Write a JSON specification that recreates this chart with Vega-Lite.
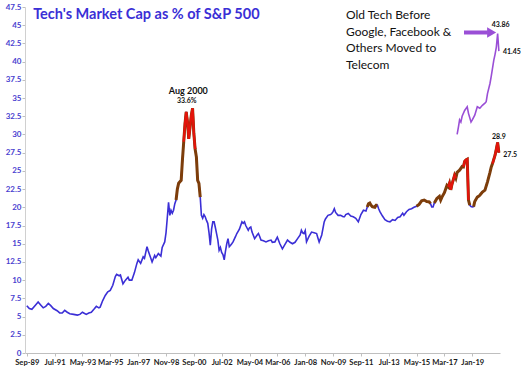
{
  "$schema": "https://vega.github.io/schema/vega-lite/v6.json",
  "width": 475,
  "height": 346,
  "autosize": {"type": "none"},
  "padding": {"left": 25, "top": 7, "right": 28, "bottom": 14},
  "background": "white",
  "config": {"view": {"stroke": null}, "font": "Lato", "axis": {"labelOverlap": false, "grid": false}},
  "datasets": {
    "tech": [
      {"d":"1989-09-01","v":6.5},{"d":"1989-11-01","v":6.1},{"d":"1990-01-01","v":6.0},{"d":"1990-04-01","v":6.6},{"d":"1990-06-01","v":7.0},{"d":"1990-08-01","v":6.6},{"d":"1990-10-01","v":6.2},{"d":"1990-12-01","v":6.4},{"d":"1991-02-01","v":6.8},{"d":"1991-04-01","v":6.5},{"d":"1991-06-01","v":6.1},{"d":"1991-09-01","v":5.8},{"d":"1991-11-01","v":5.5},{"d":"1992-01-01","v":5.5},{"d":"1992-03-01","v":5.85},{"d":"1992-05-01","v":5.6},{"d":"1992-07-01","v":5.4},{"d":"1992-10-01","v":5.3},{"d":"1993-01-01","v":5.2},{"d":"1993-03-01","v":5.3},{"d":"1993-05-01","v":5.6},{"d":"1993-06-01","v":5.5},{"d":"1993-08-01","v":5.3},{"d":"1993-10-01","v":5.5},{"d":"1993-12-01","v":5.6},{"d":"1994-02-01","v":6.0},{"d":"1994-04-01","v":6.4},{"d":"1994-06-01","v":6.2},{"d":"1994-07-01","v":6.3},{"d":"1994-09-01","v":7.2},{"d":"1994-11-01","v":7.9},{"d":"1995-01-01","v":8.4},{"d":"1995-03-01","v":8.6},{"d":"1995-05-01","v":9.3},{"d":"1995-07-01","v":10.5},{"d":"1995-08-01","v":10.8},{"d":"1995-10-01","v":10.6},{"d":"1995-11-01","v":10.7},{"d":"1996-01-01","v":9.5},{"d":"1996-03-01","v":10.0},{"d":"1996-05-01","v":10.4},{"d":"1996-06-01","v":10.0},{"d":"1996-08-01","v":10.0},{"d":"1996-10-01","v":11.0},{"d":"1996-12-01","v":12.3},{"d":"1997-01-01","v":12.8},{"d":"1997-03-01","v":12.3},{"d":"1997-05-01","v":13.2},{"d":"1997-06-01","v":13.0},{"d":"1997-08-01","v":14.6},{"d":"1997-09-01","v":14.0},{"d":"1997-11-01","v":13.0},{"d":"1997-12-01","v":12.5},{"d":"1998-02-01","v":13.4},{"d":"1998-03-01","v":13.1},{"d":"1998-05-01","v":13.65},{"d":"1998-07-01","v":13.3},{"d":"1998-08-01","v":14.5},{"d":"1998-10-01","v":15.25},{"d":"1998-11-01","v":16.5},{"d":"1998-12-01","v":18.5},{"d":"1999-01-01","v":20.7},{"d":"1999-02-01","v":18.9},{"d":"1999-03-01","v":19.6},{"d":"1999-04-01","v":19.2},{"d":"1999-05-01","v":19.6},{"d":"1999-06-01","v":20.5},
      {"d":"1999-07-01","v":21.0,"hl":"A"},{"d":"1999-08-01","v":22.5,"hl":"A"},{"d":"1999-09-01","v":23.3,"hl":"A"},{"d":"1999-10-01","v":23.5,"hl":"A"},{"d":"1999-11-01","v":23.7,"hl":"A"},{"d":"1999-12-01","v":26.5,"hl":"A"},{"d":"2000-01-01","v":29.0,"hl":"A","rd":"R1"},{"d":"2000-02-01","v":31.5,"hl":"A","rd":"R1"},{"d":"2000-03-01","v":33.1,"hl":"A","rd":"R1"},{"d":"2000-04-01","v":31.7,"hl":"A","rd":"R1"},{"d":"2000-05-01","v":29.4,"hl":"A","rd":"R1"},{"d":"2000-06-01","v":31.0,"hl":"A","rd":"R1"},{"d":"2000-07-01","v":32.6,"hl":"A","rd":"R1"},{"d":"2000-08-01","v":33.6,"hl":"A","rd":"R1"},{"d":"2000-09-01","v":30.1,"hl":"A","rd":"R1"},{"d":"2000-10-01","v":28.0,"hl":"A","rd":"R1"},{"d":"2000-11-01","v":26.9,"hl":"A"},{"d":"2000-12-01","v":23.7,"hl":"A"},{"d":"2001-01-01","v":23.3,"hl":"A"},{"d":"2001-02-01","v":21.4,"hl":"A"},
      {"d":"2001-03-01","v":18.9},{"d":"2001-04-01","v":18.5},{"d":"2001-05-01","v":19.0},{"d":"2001-06-01","v":18.7},{"d":"2001-07-01","v":18.2},{"d":"2001-08-01","v":17.8},{"d":"2001-09-01","v":16.5},{"d":"2001-10-01","v":14.8},{"d":"2001-11-01","v":17.0},{"d":"2001-12-01","v":18.0},{"d":"2002-01-01","v":18.0},{"d":"2002-02-01","v":17.2},{"d":"2002-03-01","v":16.4},{"d":"2002-04-01","v":15.5},{"d":"2002-05-01","v":14.1},{"d":"2002-06-01","v":14.5},{"d":"2002-07-01","v":13.8},{"d":"2002-08-01","v":13.5},{"d":"2002-09-01","v":12.8},{"d":"2002-10-01","v":14.0},{"d":"2002-11-01","v":15.0},{"d":"2002-12-01","v":15.7},{"d":"2003-01-01","v":14.6},{"d":"2003-02-01","v":14.8},{"d":"2003-03-01","v":15.0},{"d":"2003-04-01","v":15.25},{"d":"2003-06-01","v":16.0},{"d":"2003-07-01","v":16.4},{"d":"2003-09-01","v":17.0},{"d":"2003-11-01","v":18.0},{"d":"2003-12-01","v":17.8},{"d":"2004-01-01","v":18.0},{"d":"2004-02-01","v":17.5},{"d":"2004-04-01","v":16.85},{"d":"2004-05-01","v":17.2},{"d":"2004-06-01","v":17.3},{"d":"2004-07-01","v":16.6},{"d":"2004-09-01","v":15.7},{"d":"2004-11-01","v":16.2},{"d":"2004-12-01","v":16.4},{"d":"2005-01-01","v":16.0},{"d":"2005-02-01","v":15.5},{"d":"2005-04-01","v":15.4},{"d":"2005-06-01","v":15.25},{"d":"2005-08-01","v":15.4},{"d":"2005-10-01","v":15.5},{"d":"2005-11-01","v":15.2},{"d":"2006-01-01","v":15.25},{"d":"2006-02-01","v":15.6},{"d":"2006-03-01","v":15.9},{"d":"2006-05-01","v":15.0},{"d":"2006-07-01","v":14.3},{"d":"2006-09-01","v":14.9},{"d":"2006-11-01","v":15.5},{"d":"2007-01-01","v":15.2},{"d":"2007-03-01","v":15.0},{"d":"2007-05-01","v":15.2},{"d":"2007-07-01","v":15.7},{"d":"2007-09-01","v":16.2},{"d":"2007-10-01","v":16.85},{"d":"2007-11-01","v":16.5},{"d":"2007-12-01","v":16.4},{"d":"2008-01-01","v":16.8},{"d":"2008-02-01","v":15.25},{"d":"2008-04-01","v":16.0},{"d":"2008-06-01","v":16.6},{"d":"2008-08-01","v":16.5},{"d":"2008-10-01","v":16.4},{"d":"2008-11-01","v":15.8},{"d":"2008-12-01","v":15.25},{"d":"2009-02-01","v":16.2},{"d":"2009-04-01","v":18.0},{"d":"2009-05-01","v":18.4},{"d":"2009-07-01","v":18.9},{"d":"2009-09-01","v":19.0},{"d":"2009-10-01","v":19.15},{"d":"2009-11-01","v":19.4},{"d":"2009-12-01","v":19.8},{"d":"2010-01-01","v":19.3},{"d":"2010-03-01","v":18.9},{"d":"2010-05-01","v":18.9},{"d":"2010-07-01","v":18.7},{"d":"2010-08-01","v":18.7},{"d":"2010-09-01","v":19.0},{"d":"2010-11-01","v":19.15},{"d":"2011-01-01","v":18.8},{"d":"2011-03-01","v":18.7},{"d":"2011-05-01","v":18.5},{"d":"2011-07-01","v":18.0},{"d":"2011-09-01","v":19.0},{"d":"2011-11-01","v":19.6},{"d":"2012-01-01","v":19.5},
      {"d":"2012-02-01","v":20.05,"hl":"B"},{"d":"2012-03-01","v":20.5,"hl":"B"},{"d":"2012-04-01","v":20.6,"hl":"B"},{"d":"2012-05-01","v":20.3,"hl":"B"},{"d":"2012-06-01","v":20.1,"hl":"B"},{"d":"2012-07-01","v":20.05,"hl":"B"},{"d":"2012-08-01","v":20.0,"hl":"B"},{"d":"2012-09-01","v":20.3,"hl":"B"},{"d":"2012-10-01","v":20.3,"hl":"B"},
      {"d":"2012-11-01","v":19.8},{"d":"2012-12-01","v":19.4},{"d":"2013-02-01","v":18.8},{"d":"2013-04-01","v":18.3},{"d":"2013-06-01","v":18.1},{"d":"2013-08-01","v":18.0},{"d":"2013-10-01","v":18.3},{"d":"2013-12-01","v":18.2},{"d":"2014-02-01","v":18.6},{"d":"2014-04-01","v":18.7},{"d":"2014-06-01","v":19.2},{"d":"2014-07-01","v":18.9},{"d":"2014-09-01","v":19.4},{"d":"2014-11-01","v":19.7},{"d":"2015-01-01","v":19.8},{"d":"2015-03-01","v":20.0},
      {"d":"2015-05-01","v":20.15,"hl":"C"},{"d":"2015-07-01","v":20.4,"hl":"C"},{"d":"2015-09-01","v":20.9,"hl":"C"},{"d":"2015-11-01","v":21.0,"hl":"C"},{"d":"2016-01-01","v":20.8,"hl":"C"},{"d":"2016-03-01","v":20.75,"hl":"C"},{"d":"2016-04-01","v":20.5,"hl":"C"},
      {"d":"2016-05-01","v":20.05},{"d":"2016-06-01","v":20.05},
      {"d":"2016-07-01","v":20.6,"hl":"D"},{"d":"2016-09-01","v":21.2,"hl":"D"},{"d":"2016-11-01","v":21.5,"hl":"D"},{"d":"2016-12-01","v":21.0,"hl":"D"},{"d":"2017-01-01","v":21.4,"hl":"D"},{"d":"2017-03-01","v":22.0,"hl":"D"},{"d":"2017-05-01","v":23.0,"hl":"D"},{"d":"2017-06-01","v":22.8,"hl":"D","rd":"R2"},{"d":"2017-07-01","v":23.3,"hl":"D","rd":"R2"},{"d":"2017-08-01","v":22.4,"hl":"D","rd":"R2"},{"d":"2017-09-01","v":23.2,"hl":"D","rd":"R2"},{"d":"2017-11-01","v":24.4,"hl":"D","rd":"R2"},{"d":"2017-12-01","v":24.0,"hl":"D","rd":"R2"},{"d":"2018-01-01","v":24.8,"hl":"D"},{"d":"2018-03-01","v":25.1,"hl":"D"},{"d":"2018-05-01","v":25.6,"hl":"D"},{"d":"2018-06-01","v":25.55,"hl":"D","rd":"R3"},{"d":"2018-07-01","v":26.3,"hl":"D","rd":"R3"},{"d":"2018-08-01","v":26.5,"hl":"D","rd":"R3"},{"d":"2018-09-01","v":26.6,"hl":"D","rd":"R3"},{"d":"2018-10-01","v":21.0,"hl":"D","rd":"R3"},{"d":"2018-11-01","v":20.3,"hl":"D"},
      {"d":"2018-12-01","v":20.1},{"d":"2019-01-01","v":20.05},
      {"d":"2019-02-01","v":20.1,"hl":"E"},{"d":"2019-03-01","v":20.8,"hl":"E"},{"d":"2019-05-01","v":21.4,"hl":"E"},{"d":"2019-06-01","v":21.5,"hl":"E"},{"d":"2019-07-01","v":21.65,"hl":"E"},{"d":"2019-09-01","v":22.1,"hl":"E"},{"d":"2019-11-01","v":22.35,"hl":"E"},{"d":"2020-01-01","v":23.5,"hl":"E"},{"d":"2020-03-01","v":24.8,"hl":"E"},{"d":"2020-04-01","v":25.55,"hl":"E"},{"d":"2020-05-01","v":26.0,"hl":"E","rd":"R4"},{"d":"2020-07-01","v":27.15,"hl":"E","rd":"R4"},{"d":"2020-08-01","v":28.0,"hl":"E","rd":"R4"},{"d":"2020-09-01","v":28.9,"hl":"E","rd":"R4"},{"d":"2020-10-01","v":27.5,"hl":"E","rd":"R4"}
    ],
    "oldtech": [
      {"d":"2018-01-01","v":30.0},{"d":"2018-02-01","v":31.0},{"d":"2018-03-01","v":32.0},{"d":"2018-04-01","v":31.7},{"d":"2018-05-01","v":32.5},{"d":"2018-07-01","v":33.3},{"d":"2018-09-01","v":33.8},{"d":"2018-10-01","v":32.9},{"d":"2018-12-01","v":31.7},{"d":"2019-01-01","v":32.0},{"d":"2019-03-01","v":32.65},{"d":"2019-05-01","v":33.8},{"d":"2019-07-01","v":33.6},{"d":"2019-09-01","v":34.0},{"d":"2019-11-01","v":34.3},{"d":"2019-12-01","v":34.5},{"d":"2020-01-01","v":35.6},{"d":"2020-03-01","v":37.0},{"d":"2020-04-01","v":38.0},{"d":"2020-06-01","v":40.2},{"d":"2020-07-01","v":41.0},{"d":"2020-08-01","v":42.0},{"d":"2020-09-01","v":43.86},{"d":"2020-10-01","v":41.45}
    ],
    "arrow": [{"d":"2018-06-15","d2":"2020-01-10","v":44.0}],
    "head": [{"d":"2020-04-10","v":44.0}],
    "title": [{"d":"1990-02-01","v":45.9,"t":"Tech's Market Cap as % of S&P 500"}],
    "big": [{"d":"2000-04-20","v":36.0,"t":"Aug 2000"}],
    "small": [
      {"d":"2000-03-13","v":34.6,"t":"33.6%"},
      {"d":"2020-11-12","v":45.0,"t":"43.86"},
      {"d":"2021-08-10","v":41.3,"t":"41.45"},
      {"d":"2020-10-01","v":29.7,"t":"28.9"},
      {"d":"2021-07-01","v":27.15,"t":"27.5"}
    ],
    "note": [{"d":"2010-09-07","v":45.84,"t":"Old Tech Before\nGoogle, Facebook &\nOthers Moved to\nTelecom"}]
  },
  "encoding": {
    "x": {"field": "d", "type": "temporal",
      "scale": {"type": "utc", "domain": [{"year":1989,"month":7,"date":20,"utc":true},{"year":2020,"month":10,"date":28,"utc":true}]},
      "axis": {"title": null, "format": "%b-%y", "grid": false,
        "values": [{"year":1989,"month":9,"date":1,"utc":true},{"year":1991,"month":7,"date":1,"utc":true},{"year":1993,"month":5,"date":1,"utc":true},{"year":1995,"month":3,"date":1,"utc":true},{"year":1997,"month":1,"date":1,"utc":true},{"year":1998,"month":11,"date":1,"utc":true},{"year":2000,"month":9,"date":1,"utc":true},{"year":2002,"month":7,"date":1,"utc":true},{"year":2004,"month":5,"date":1,"utc":true},{"year":2006,"month":3,"date":1,"utc":true},{"year":2008,"month":1,"date":1,"utc":true},{"year":2009,"month":11,"date":1,"utc":true},{"year":2011,"month":9,"date":1,"utc":true},{"year":2013,"month":7,"date":1,"utc":true},{"year":2015,"month":5,"date":1,"utc":true},{"year":2017,"month":3,"date":1,"utc":true},{"year":2019,"month":1,"date":1,"utc":true}],
        "labelFont": "Lato", "labelFontSize": 7.6, "labelFontWeight": "bold", "labelColor": "#1a1a1a", "labelOverlap": false, "labelFlush": false, "labelPadding": 2, "tickSize": 3, "tickColor": "#bfbfbf", "domainColor": "#bfbfbf"}},
    "y": {"field": "v", "type": "quantitative",
      "scale": {"domain": [0, 47.5], "nice": false},
      "axis": {"title": null, "grid": false, "format": ".1~f", "labelOverlap": false,
        "values": [0,2.5,5,7.5,10,12.5,15,17.5,20,22.5,25,27.5,30,32.5,35,37.5,40,42.5,45,47.5],
        "labelFont": "Lato", "labelFontSize": 8, "labelFontWeight": "bold", "labelColor": "#4a3fd0", "labelPadding": 1, "tickSize": 3, "tickColor": "#bfbfbf", "domainColor": "#d0d0d0"}}
  },
  "layer": [
    {
      "data": {"name": "tech"},
      "mark": {"type": "line", "color": "#3b2fd6", "strokeWidth": 1.6}
    },
    {
      "data": {"name": "tech"},
      "transform": [{"filter": "datum.hl"}],
      "mark": {"type": "line", "color": "#7d3d0a", "strokeWidth": 3},
      "encoding": {"detail": {"field": "hl"}}
    },
    {
      "data": {"name": "tech"},
      "transform": [{"filter": "datum.rd"}],
      "mark": {"type": "line", "color": "#e3140b", "strokeWidth": 2.4},
      "encoding": {"detail": {"field": "rd"}}
    },
    {
      "data": {"name": "oldtech"},
      "mark": {"type": "line", "color": "#9a4fd6", "strokeWidth": 1.6}
    },
    {
      "data": {"name": "arrow"},
      "mark": {"type": "rule", "color": "#9a4fd6", "strokeWidth": 4},
      "encoding": {"x2": {"field": "d2"}}
    },
    {
      "data": {"name": "head"},
      "mark": {"type": "point", "shape": "triangle-right", "filled": true, "color": "#9a4fd6", "opacity": 1, "size": 110}
    },
    {
      "data": {"name": "title"},
      "mark": {"type": "text", "font": "Lato", "fontSize": 14.5, "fontWeight": "bold", "color": "#3a2fd6", "align": "left", "baseline": "alphabetic"},
      "encoding": {"text": {"field": "t"}}
    },
    {
      "data": {"name": "big"},
      "mark": {"type": "text", "font": "Lato", "fontSize": 9, "fontWeight": "bold", "color": "#111111", "align": "center", "baseline": "middle"},
      "encoding": {"text": {"field": "t"}}
    },
    {
      "data": {"name": "small"},
      "mark": {"type": "text", "font": "Lato", "fontSize": 7, "fontWeight": "bold", "color": "#111111", "align": "center", "baseline": "middle"},
      "encoding": {"text": {"field": "t"}}
    },
    {
      "data": {"name": "note"},
      "mark": {"type": "text", "font": "Lato", "fontSize": 12, "color": "#111111", "align": "left", "baseline": "alphabetic", "lineBreak": "\n", "lineHeight": 16.5},
      "encoding": {"text": {"field": "t"}}
    }
  ]
}
